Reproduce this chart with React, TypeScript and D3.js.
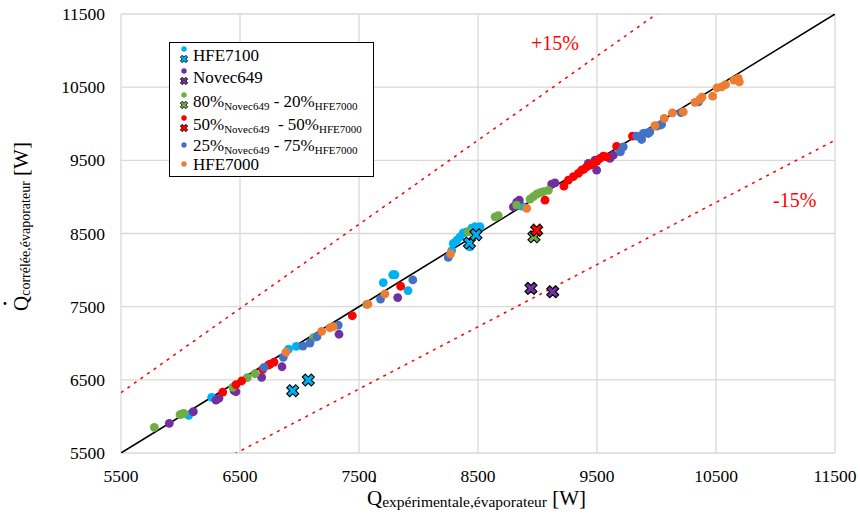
import React from "react";
import * as d3 from "d3";

// ---- data: [experimental, correlated] in W ----
const HFE7100: [number, number][] = [[6069,6015],[6262,6261],[6908,6921],[6973,6958],[7704,7829],[7783,7936],[7802,7936],[7912,7720],[8279,8266],[8292,8365],[8323,8410],[8349,8455],[8376,8509],[8405,8523],[8433,8318],[8447,8574],[8475,8592],[8504,8581],[8517,8592],[8867,8874]];
const HFE7100_X: [number, number][] = [[6943,6351],[7074,6497],[8428,8369],[8483,8482]];
const NOVEC649: [number, number][] = [[5906,5906],[6108,6064],[6298,6224],[6324,6251],[6450,6351],[6466,6337],[6682,6534],[6853,6679],[7332,7123],[7825,7624],[8797,8865],[8825,8929],[8847,8956],[9119,9175],[9147,9193],[9427,9458],[9483,9503],[9497,9366],[9609,9526],[9637,9571],[9449,9448]];
const NOVEC649_X: [number, number][] = [[8945,7750],[9128,7704]];
const MIX80: [number, number][] = [[5780,5851],[5996,6023],[6013,6033],[6029,6040],[6439,6398],[6561,6529],[6626,6583],[7116,7075],[7565,7531],[8418,8523],[8643,8728],[8670,8744],[8825,8888],[8937,8970],[8965,9005],[8993,9038],[9021,9058],[9049,9072],[9091,9089]];
const MIX80_X: [number, number][] = [[8970,8455]];
const MIX50: [number, number][] = [[6355,6333],[6466,6433],[6514,6484],[6691,6643],[6738,6702],[6752,6716],[6786,6743],[7444,7376],[7850,7779],[9063,8956],[9222,9147],[9259,9229],[9301,9277],[9343,9321],[9371,9366],[9413,9411],[9441,9434],[9469,9458],[9525,9526],[9553,9557],[9581,9548],[9665,9691],[9798,9831],[9390,9380],[9500,9490]];
const MIX50_X: [number, number][] = [[8993,8546]];
const MIX25: [number, number][] = [[6702,6671],[6864,6807],[7029,6962],[7088,7003],[7147,7089],[7326,7249],[7681,7604],[7952,7866],[8250,8173],[9697,9616],[9721,9684],[9833,9831],[9875,9785],[9889,9867],[9903,9872],[9931,9867],[9945,9889],[9999,9967],[10029,9981],[10043,9990],[10206,10151],[10353,10299]];
const HFE7000: [number, number][] = [[6886,6880],[7186,7163],[7256,7212],[7284,7228],[7575,7534],[7718,7676],[8270,8223],[8909,8843],[9987,9974],[10065,10072],[10134,10149],[10225,10162],[10323,10291],[10365,10332],[10382,10363],[10472,10377],[10508,10490],[10548,10504],[10580,10534],[10651,10596],[10687,10619],[10696,10572]];

const TICKS = [5500, 6500, 7500, 8500, 9500, 10500, 11500];
const DOMAIN: [number, number] = [5500, 11500];
const BAND = 0.15;

const C = {
  hfe7100: "#00b0f0",
  novec: "#7030a0",
  m80: "#70ad47",
  m50: "#ff0000",
  m25: "#4472c4",
  hfe7000: "#ed7d31",
};

const FONT = '"Liberation Serif", "DejaVu Serif", serif';
const TS: React.CSSProperties = { fontFamily: FONT };

export default function App() {
  const W = 860, H = 518;
  const x = d3.scaleLinear().domain(DOMAIN).range([121, 835]);
  const y = d3.scaleLinear().domain(DOMAIN).range([453, 14]);

  const line = d3.line<number>().x((v) => x(v)).y((v) => y(v));
  const lineUp = d3.line<number>().x((v) => x(v)).y((v) => y(v * (1 + BAND)));
  const lineDn = d3.line<number>().x((v) => x(v)).y((v) => y(v * (1 - BAND)));
  const xs = [5500, 11500];

  const crossPath = d3.symbol().type(d3.symbolCross).size(90)() as string;
  const crossSmall = d3.symbol().type(d3.symbolCross).size(34)() as string;

  const dotSeries: [[number, number][], string][] = [
    [HFE7100, C.hfe7100],
    [NOVEC649, C.novec],
    [MIX80, C.m80],
    [MIX50, C.m50],
    [MIX25, C.m25],
    [HFE7000, C.hfe7000],
  ];
  const xSeries: [[number, number][], string][] = [
    [HFE7100_X, C.hfe7100],
    [NOVEC649_X, C.novec],
    [MIX80_X, C.m80],
    [MIX50_X, C.m50],
  ];

  const legendRows = [
    { color: C.hfe7100, cross: true, parts: [["HFE7100", false]] },
    { color: C.novec, cross: true, parts: [["Novec649", false]] },
    { color: C.m80, cross: true, parts: [["80%", false], ["Novec649", true], [" - 20%", false], ["HFE7000", true]] },
    { color: C.m50, cross: true, parts: [["50%", false], ["Novec649", true], ["\u00a0 - 50%", false], ["HFE7000", true]] },
    { color: C.m25, cross: false, parts: [["25%", false], ["Novec649", true], [" - 75%", false], ["HFE7000", true]] },
    { color: C.hfe7000, cross: false, parts: [["HFE7000", false]] },
  ] as { color: string; cross: boolean; parts: [string, boolean][] }[];
  const legendBase = [61, 83, 107, 130, 151, 170];

  return (
    <svg width={W} height={H} style={{ display: "block", position: "absolute", left: 0, top: 0, fontFamily: FONT }}>
      <rect width={W} height={H} fill="#fff" />
      <defs>
        <clipPath id="plot">
          <rect x={121} y={14} width={714} height={439} />
        </clipPath>
      </defs>
      {/* grid */}
      {TICKS.map((t) => (
        <line key={"gx" + t} x1={x(t)} x2={x(t)} y1={y(DOMAIN[0])} y2={y(DOMAIN[1])} stroke="#d9d9d9" strokeWidth={1.3} />
      ))}
      {TICKS.map((t) => (
        <line key={"gy" + t} y1={y(t)} y2={y(t)} x1={x(DOMAIN[0])} x2={x(DOMAIN[1])} stroke="#d9d9d9" strokeWidth={1.3} />
      ))}
      {/* tick labels */}
      {TICKS.map((t) => (
        <text key={"tx" + t} x={x(t)} y={482} textAnchor="middle" fontSize={17.5} fill="#000" style={TS}>{t}</text>
      ))}
      {TICKS.map((t) => (
        <text key={"ty" + t} x={105} y={y(t) + 6} textAnchor="end" fontSize={17.5} fill="#000" style={TS}>{t}</text>
      ))}
      {/* reference lines */}
      <g clipPath="url(#plot)">
        <path d={lineUp(xs) as string} stroke="#ff0000" strokeWidth={1.5} strokeDasharray="3,5" fill="none" />
        <path d={lineDn(xs) as string} stroke="#ff0000" strokeWidth={1.5} strokeDasharray="3,5" fill="none" />
        <path d={line(xs) as string} stroke="#000" strokeWidth={1.6} fill="none" />
      </g>
      <text x={531} y={50} fontSize={20} fill="#ff0000" style={TS}>+15%</text>
      <text x={773} y={207} fontSize={20} fill="#ff0000" style={TS}>-15%</text>
      {/* dots */}
      {dotSeries.map(([data, col], i) => (
        <g key={"s" + i}>
          {data.map((d, j) => (
            <circle key={j} cx={x(d[0])} cy={y(d[1])} r={4.4} fill={col} />
          ))}
        </g>
      ))}
      {xSeries.map(([data, col], i) => (
        <g key={"x" + i}>
          {data.map((d, j) => (
            <path key={j} d={crossPath} transform={`translate(${x(d[0])},${y(d[1])}) rotate(45)`} fill={col} stroke="#000" strokeWidth={1.1} />
          ))}
        </g>
      ))}
      {/* legend */}
      <rect x={169.5} y={42.5} width={204} height={134} fill="#fff" stroke="#000" strokeWidth={1} />
      {legendRows.map((r, i) => {
        const b = legendBase[i];
        return (
          <g key={"l" + i}>
            {r.cross ? (
              <>
                <circle cx={184} cy={b - 12} r={2.7} fill={r.color} />
                <path d={crossSmall} transform={`translate(${184},${b - 2}) rotate(45)`} fill={r.color} stroke="#000" strokeWidth={0.8} />
              </>
            ) : (
              <circle cx={184} cy={b - 6} r={2.7} fill={r.color} />
            )}
            <text x={193} y={b} fontSize={17} fill="#000" style={TS}>
              {r.parts.map(([s, sub], k) =>
                sub ? (
                  <tspan key={k} fontSize={11} dy={3}>{s}</tspan>
                ) : (
                  <tspan key={k} fontSize={17} dy={k === 0 ? 0 : -3}>{s}</tspan>
                )
              )}
            </text>
          </g>
        );
      })}
      {/* axis titles */}
      <g>
        <text x={367} y={505} fontSize={21} fill="#000" style={TS}>
          Q<tspan fontSize={15.5} dy={2}>expérimentale,évaporateur</tspan><tspan fontSize={21} dy={-2}> [W]</tspan>
        </text>
        <circle cx={374.5} cy={481} r={1.4} fill="#000" />
      </g>
      <g transform="translate(28,311) rotate(-90)">
        <text x={0} y={0} fontSize={21} fill="#000" style={TS}>
          Q<tspan fontSize={14} dy={2}>corrélée,évaporateur</tspan><tspan fontSize={21} dy={-2}> [W]</tspan>
        </text>
        <circle cx={7.5} cy={-23} r={1.4} fill="#000" />
      </g>
    </svg>
  );
}
